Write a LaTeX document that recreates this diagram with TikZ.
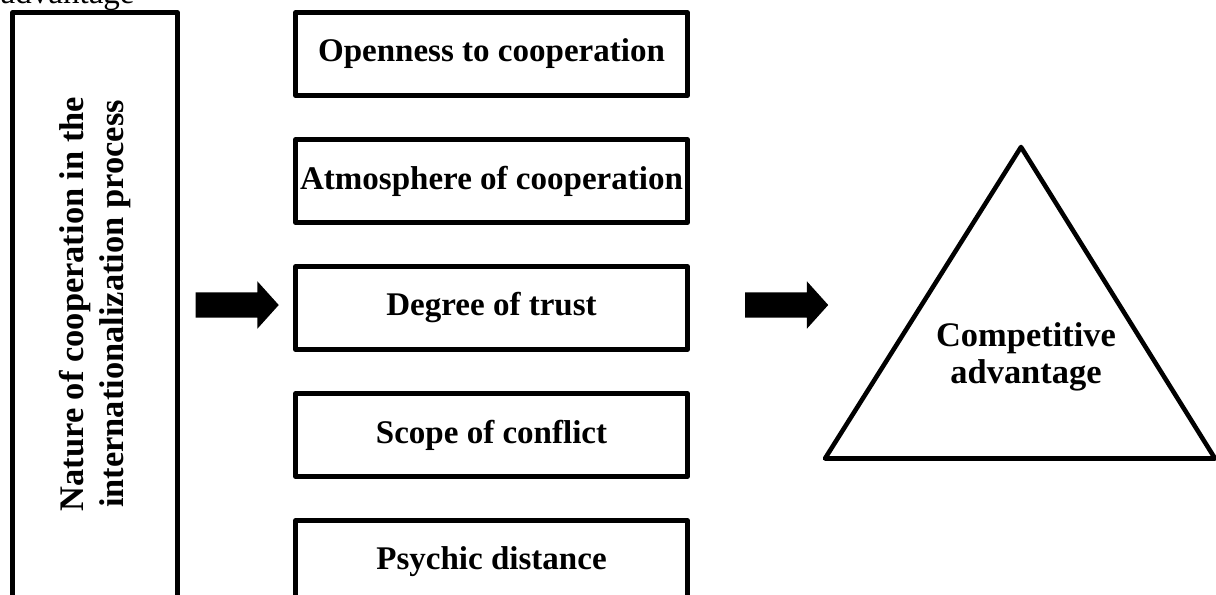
\documentclass[tikz,border=0pt]{standalone}
\usepackage{fontspec}
\setmainfont{Liberation Serif}
\usetikzlibrary{shapes.arrows}

\begin{document}
\begin{tikzpicture}[x=1cm,y=1cm]
    % Define colours
    \definecolor{borderColour}{HTML}{000000}
    \definecolor{fillColour}{HTML}{000000}

    % Define styles
    \tikzset{
        labelFont/.style={font=\fontsize{9.4}{11.4}\selectfont\bfseries},
        factorBox/.style={draw=borderColour, line width=1.3pt, line join=round, minimum width=3.92cm, minimum height=0.83cm, inner sep=0pt, outer sep=0pt, labelFont},
        blockArrow/.style={single arrow, fill=fillColour, minimum height=0.83cm, single arrow head extend=0.11cm, single arrow tip angle=96, inner xsep=0pt, inner ysep=0.12cm, outer sep=0pt},
    }

    % Fix the page size and cut off everything outside it
    \useasboundingbox (0,0) rectangle (12.16,-5.94);
    \clip (0,0) rectangle (12.16,-5.94);

    % Caption remainder at the top
    \node[anchor=base west, inner sep=0pt, font=\fontsize{9.4}{11.4}\selectfont] (caption) at (0,-0.03) {advantage};

    % Draw the left frame and its rotated label
    \node[draw=borderColour, line width=1.3pt, line join=round, minimum width=1.65cm, minimum height=6.3cm, inner sep=0pt, outer sep=0pt, anchor=north west] (nature) at (0.125,-0.125) {};
    \node[font=\fontsize{9.8}{11.6}\selectfont\bfseries, rotate=90, align=center, inner sep=0pt] (natureText) at (0.95,-3.04) {Nature of cooperation in the\\internationalization process};

    % Draw the five factor boxes
    \foreach \factor [count=\i] in {Openness to cooperation, Atmosphere of cooperation, Degree of trust, Scope of conflict, Psychic distance}
        \node[factorBox] (factor\i) at (4.915,{-0.54-1.27*(\i-1)}) {\factor};

    % Draw the block arrows
    \node[blockArrow] (arrowIn) at (2.315,-3.05) {};
    \node[blockArrow] (arrowOut) at (7.81,-3.05) {};

    % Draw the triangle
    \coordinate (apex) at (10.21,-1.47);
    \coordinate (baseLeft) at (8.25,-4.585);
    \coordinate (baseRight) at (12.15,-4.585);
    \draw[draw=borderColour, line width=1.3pt, line join=round] (apex) -- (baseLeft) -- (baseRight) -- cycle;
    \node[font=\fontsize{9.8}{10.4}\selectfont\bfseries, align=center, inner sep=0pt] (advantage) at (10.26,-3.57) {Competitive\\advantage};
\end{tikzpicture}
\end{document}
